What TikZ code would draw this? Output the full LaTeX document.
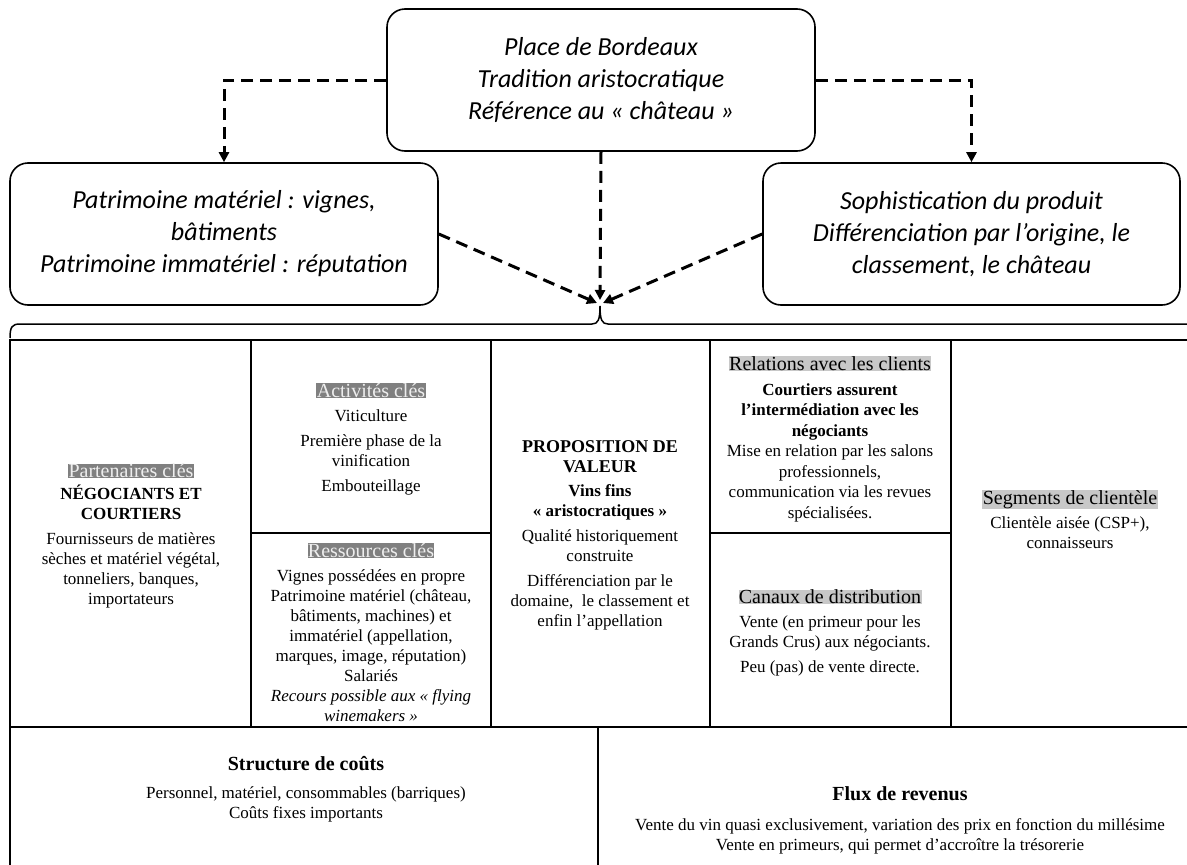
\documentclass[tikz,border=0pt]{standalone}
\usepackage{fontspec}
\setmainfont{Liberation Serif}
\newfontfamily\calfont{Carlito}
\usetikzlibrary{arrows.meta}
\definecolor{hdark}{HTML}{808080}
\definecolor{hdtext}{HTML}{EEEEEE}
\definecolor{hlight}{HTML}{C8C8C8}
\newcommand\hdk[1]{{\fontsize{20}{23}\selectfont\setlength{\fboxsep}{0.4pt}\colorbox{hdark}{\textcolor{hdtext}{#1}}}}
\newcommand\hlt[1]{{\fontsize{20}{23}\selectfont\setlength{\fboxsep}{0.4pt}\colorbox{hlight}{#1}}}
\newcommand\bigb{\fontsize{18}{20}\selectfont\bfseries}
\newcommand\botb{\fontsize{20}{22}\selectfont\bfseries}
\begin{document}
\begin{tikzpicture}[x=1pt,y=-1pt,
  topbox/.style={draw, line width=1.6pt, rounded corners=18pt, align=center,
    font=\calfont\itshape\fontsize{26}{32}\selectfont, inner sep=0pt},
  darr/.style={line width=3pt, dash pattern=on 12pt off 7pt,
    -{Triangle[length=10pt,width=10pt]}},
  tab/.style={line width=1.8pt},
  cell/.style={align=center, inner sep=0pt, font=\fontsize{17}{20}\selectfont},
  bot/.style={align=center, inner sep=0pt, font=\fontsize{17}{19.5}\selectfont}]
\useasboundingbox (0,0) rectangle (1187,865);

% top boxes
\node[topbox, minimum width=428pt, minimum height=142pt] (T) at (601,80)
  {Place de Bordeaux\\Tradition aristocratique\\Référence au « château »};
\node[topbox, minimum width=428pt, minimum height=142pt] (L) at (224,234)
  {Patrimoine matériel : vignes,\\bâtiments\\Patrimoine immatériel : réputation};
\node[topbox, minimum width=417pt, minimum height=142pt] (R) at (971.5,234)
  {Sophistication du produit\\Différenciation par l’origine, le\\classement, le château};

\coordinate (Cl) at (597,303);
\coordinate (Cc) at (600,300);
\coordinate (Cr) at (603,303);

\draw[darr] (T.west) -| (L.north);
\draw[darr] (T.east) -| (R.north);
\draw[darr] (T.south) -- (Cc);
\draw[darr] (L.east) -- (Cl);
\draw[darr] (R.west) -- (Cr);

% brace
\draw[line width=1.5pt] (10,338) .. controls (10,327) and (12,324) .. (20,324)
  -- (592,324) .. controls (598,324) and (600,320) .. (600,306)
  .. controls (600,320) and (602,324) .. (608,324) -- (1190,324);

% table
\draw[tab] (10,870) -- (10,340) -- (1192,340);
\draw[tab] (10,727) -- (1192,727);
\draw[tab] (251,340) -- (251,727);
\draw[tab] (491,340) -- (491,727);
\draw[tab] (710,340) -- (710,727);
\draw[tab] (951,340) -- (951,727);
\draw[tab] (251,533) -- (491,533);
\draw[tab] (710,533) -- (951,533);
\draw[tab] (598,727) -- (598,870);

% cells
\node[cell] (kp) at (131,536) {\hdk{Partenaires clés}\\[2pt]
  \textbf{NÉGOCIANTS ET}\\\textbf{COURTIERS}\\[5pt]
  Fournisseurs de matières\\sèches et matériel végétal,\\tonneliers, banques,\\importateurs};
\node[cell] (ka) at (371,439) {\hdk{Activités clés}\\[4pt]
  Viticulture\\[5pt] Première phase de la\\vinification\\[5pt] Embouteillage};
\node[cell] (kr) at (371,632) {\hdk{Ressources clés}\\[4pt]
  Vignes possédées en propre\\Patrimoine matériel (château,\\bâtiments, machines) et\\
  immatériel (appellation,\\marques, image, réputation)\\Salariés\\
  \textit{Recours possible aux « flying}\\\textit{winemakers »}};
\node[cell] (vp) at (600,535) {\bigb PROPOSITION DE\\\bigb VALEUR\\[4pt]
  \textbf{Vins fins}\\\textbf{« aristocratiques »}\\[5pt]
  Qualité historiquement\\construite\\[5pt]
  Différenciation par le\\domaine,\ \ le classement et\\enfin l’appellation};
\node[cell, font=\fontsize{17}{20.5}\selectfont] (rc) at (830,439) {\hlt{Relations avec les clients}\\[4pt]
  \textbf{Courtiers assurent}\\\textbf{l’intermédiation avec les}\\\textbf{négociants}\\
  Mise en relation par les salons\\professionnels,\\communication via les revues\\spécialisées.};
\node[cell] (cd) at (830,633) {\hlt{Canaux de distribution}\\[4pt]
  Vente (en primeur pour les\\Grands Crus) aux négociants.\\[5pt]
  Peu (pas) de vente directe.};
\node[cell] (sc) at (1070,519) {\hlt{Segments de clientèle}\\[4pt]
  Clientèle aisée (CSP+),\\connaisseurs};
\node[bot] (cs) at (306,789) {\botb Structure de coûts\\[9pt]
  Personnel, matériel, consommables (barriques)\\Coûts fixes importants};
\node[bot] (fr) at (900,820) {\botb Flux de revenus\\[11pt]
  Vente du vin quasi exclusivement, variation des prix en fonction du millésime\\
  Vente en primeurs, qui permet d’accroître la trésorerie};
\end{tikzpicture}
\end{document}
